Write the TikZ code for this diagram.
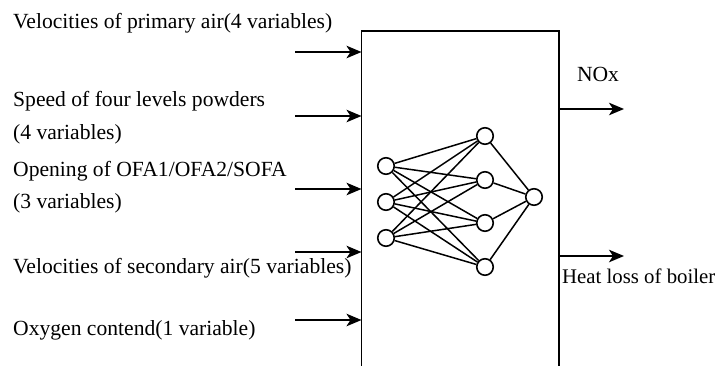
\documentclass[tikz,border=0pt]{standalone}
\usepackage{fontspec}
\setmainfont{Liberation Serif}
\usetikzlibrary{arrows.meta}
\begin{document}
\begin{tikzpicture}[x=1pt,y=-1pt,
  lbl/.style={anchor=west,inner sep=0pt,font=\fontsize{21.6}{24}\selectfont},
  neuron/.style={circle,draw,line width=1.6pt,minimum size=16.5pt,inner sep=0pt,fill=white},
  conn/.style={line width=1.5pt},
  inarrow/.style={line width=1.8pt,-{Stealth[length=15pt,width=12.5pt,inset=4pt]}}]
\useasboundingbox (0,0) rectangle (720,365);
% box
\draw[line width=1.8pt] (361.5,370) -- (361.5,31) -- (559,31) -- (559,370);
\coordinate (bl1) at (361.5,52);
\coordinate (bl2) at (361.5,116);
\coordinate (bl3) at (361.5,189);
\coordinate (bl4) at (361.5,252);
\coordinate (bl5) at (361.5,320);
\coordinate (s1) at (295,52);
\coordinate (s2) at (295,116);
\coordinate (s3) at (295,189);
\coordinate (s4) at (295,252);
\coordinate (s5) at (295,320);
\foreach \i in {1,...,5} \draw[inarrow] (s\i) -- (bl\i);
% outputs
\coordinate (br1) at (559,109);
\coordinate (br2) at (559,256);
\coordinate (e1) at (624,109);
\coordinate (e2) at (624,256);
\draw[inarrow] (br1) -- (e1);
\draw[inarrow] (br2) -- (e2);
% labels
\node[lbl] (t1) at (13,23) {Velocities of primary air(4 variables)};
\node[lbl] (t2) at (13,101) {Speed of four levels powders};
\node[lbl] (t3) at (13,134) {(4 variables)};
\node[lbl] (t4) at (13,171) {Opening of OFA1/OFA2/SOFA};
\node[lbl] (t5) at (13,203) {(3 variables)};
\node[lbl] (t6) at (13,268) {Velocities of secondary air(5 variables)};
\node[lbl] (t7) at (13,330) {Oxygen contend(1 variable)};
\node[lbl,anchor=center] (nox) at (598,74) {NOx};
\node[lbl,font=\fontsize{20.8}{24}\selectfont] (heat) at (562,276) {Heat loss of boiler};
% network
\node[neuron] (i1) at (386,166) {};
\node[neuron] (i2) at (386,202) {};
\node[neuron] (i3) at (386,238) {};
\node[neuron] (h1) at (485,136) {};
\node[neuron] (h2) at (485,180) {};
\node[neuron] (h3) at (485,223) {};
\node[neuron] (h4) at (485,267) {};
\node[neuron] (o) at (534,197) {};
\foreach \a in {1,2,3} \foreach \b in {1,2,3,4} \draw[conn] (i\a) -- (h\b);
\foreach \b in {1,2,3,4} \draw[conn] (h\b) -- (o);
\end{tikzpicture}
\end{document}
